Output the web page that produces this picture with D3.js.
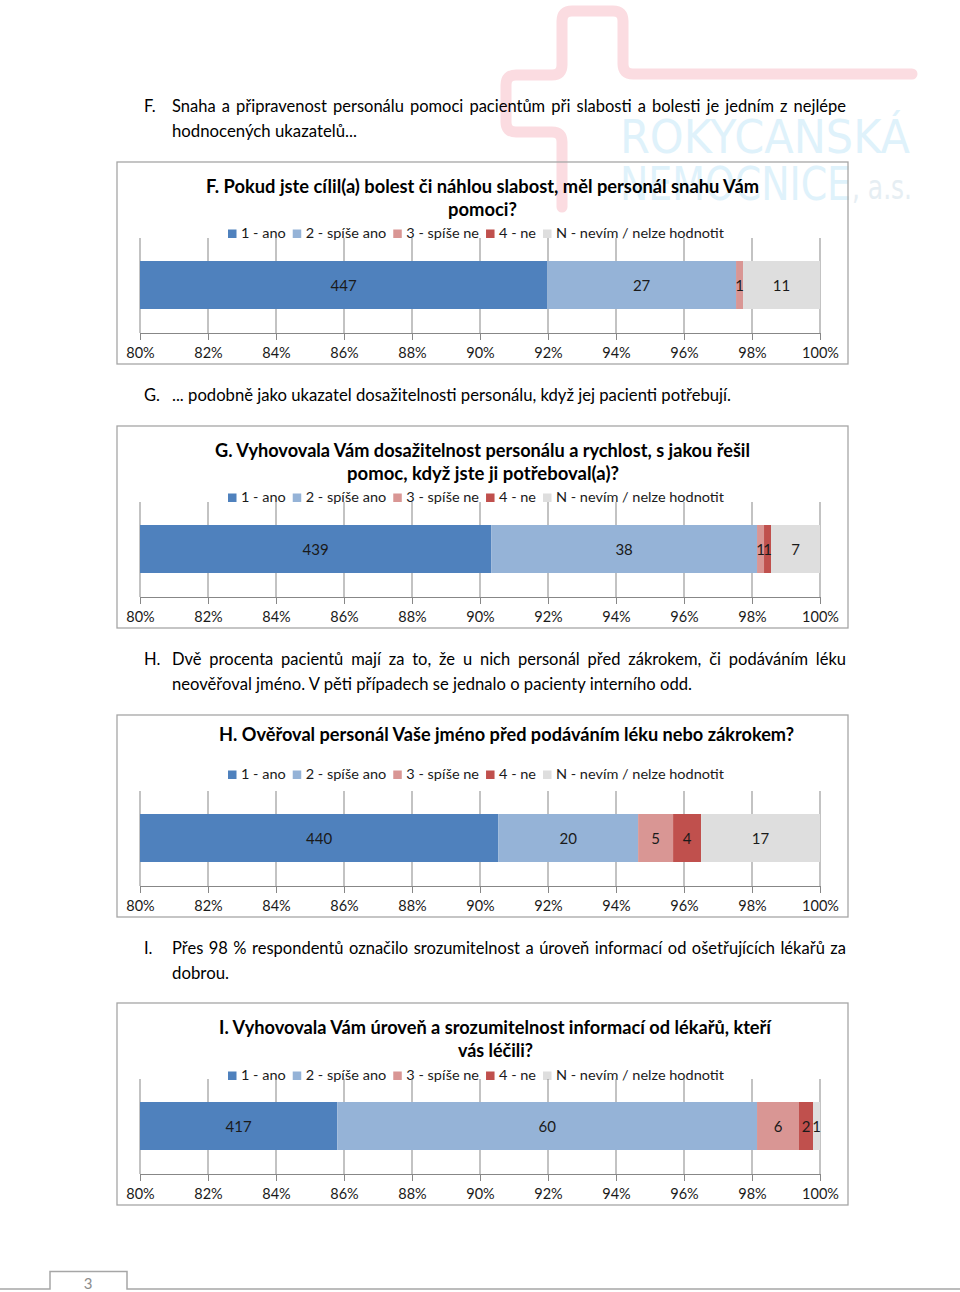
<!DOCTYPE html>
<html><head><meta charset="utf-8">
<script src="https://cdn.jsdelivr.net/npm/d3@7"></script>
<style>html,body{margin:0;padding:0;background:#fff;} svg{display:block;}</style>
</head><body>
<svg id="page" width="960" height="1292"></svg>
<script>
// ---------- DATA ----------
const categories = ["1 - ano", "2 - spíše ano", "3 - spíše ne", "4 - ne", "N - nevím / nelze hodnotit"];
const valuesF = [447, 27, 1, 0, 11];
const valuesG = [439, 38, 1, 1, 7];
const valuesH = [440, 20, 5, 4, 17];
const valuesI = [417, 60, 6, 2, 1];
const tickValues = [0.80, 0.82, 0.84, 0.86, 0.88, 0.90, 0.92, 0.94, 0.96, 0.98, 1.00];
const titleF = ["F. Pokud jste cílil(a) bolest či náhlou slabost, měl personál snahu Vám", "pomoci?"];
const titleG = ["G. Vyhovovala Vám dosažitelnost personálu a rychlost, s jakou řešil", "pomoc, když jste ji potřeboval(a)?"];
const titleH = ["H. Ověřoval personál Vaše jméno před podáváním léku nebo zákrokem?"];
const titleI = ["I. Vyhovovala Vám úroveň a srozumitelnost informací od lékařů, kteří", "vás léčili?"];
const paraF = ["Snaha a připravenost personálu pomoci pacientům při slabosti a bolesti je jedním z nejlépe", "hodnocených ukazatelů..."];
const paraG = ["... podobně jako ukazatel dosažitelnosti personálu, když jej pacienti potřebují."];
const paraH = ["Dvě procenta pacientů mají za to, že u nich personál před zákrokem, či podáváním léku", "neověřoval jméno. V pěti případech se jednalo o pacienty interního odd."];
const paraI = ["Přes 98 % respondentů označilo srozumitelnost a úroveň informací od ošetřujících lékařů za", "dobrou."];

// ---------- STYLE ----------
const colors = ["#4F81BD", "#95B3D7", "#D99694", "#C0504D", "#DEDEDE"];
const FONT = "Lato, 'Open Sans', sans-serif";
const svg = d3.select("#page");
svg.append("rect").attr("width", 960).attr("height", 1292).attr("fill", "#fff");

function fit(t, target, justify) {
  const w = t.node().getComputedTextLength();
  if (justify && w < target) {
    const spaces = (t.text().match(/ /g) || []).length;
    if (spaces) { t.attr("word-spacing", (target - w) / spaces); return; }
  }
  t.attr("textLength", target).attr("lengthAdjust", "spacingAndGlyphs");
}

// ---------- WATERMARK ----------
const wm = svg.append("g");
wm.append("path")
  .attr("d", "M912,74 L633,74 Q623,74 623,64 L623,21 Q623,11 613,11 L572,11 Q562,11 562,21 L562,65 Q562,75 552,75 L516,75 Q506,75 506,85 L506,122 Q506,132 516,132 L552,132 Q562,132 562,142 L562,207")
  .attr("fill", "none").attr("stroke", "#FBDCE1").attr("stroke-width", 11)
  .attr("stroke-linecap", "round").attr("stroke-linejoin", "round");
const w1 = wm.append("text").attr("x", 620).attr("y", 153).attr("font-family", "'DejaVu Sans', sans-serif")
  .attr("font-size", 47).attr("fill", "#DFF2FB").text("ROKYCANSKÁ");
fit(w1, 290);
const w2 = wm.append("text").attr("x", 620).attr("y", 200).attr("font-family", "'DejaVu Sans', sans-serif")
  .attr("font-size", 47).attr("fill", "#DFF2FB").text("NEMOCNICE");
fit(w2, 231);
const w3 = wm.append("text").attr("x", 852).attr("y", 199).attr("font-family", "'DejaVu Sans', sans-serif")
  .attr("font-size", 33).attr("fill", "#E6EEF3").text(", a.s.");
fit(w3, 60);

// ---------- PARAGRAPHS ----------
function paragraph(letter, lines, y0, widths, justified) {
  svg.append("text").attr("x", 144).attr("y", y0).attr("font-family", FONT).attr("font-size", 16.5)
    .attr("fill", "#000").text(letter);
  lines.forEach((ln, i) => {
    const t = svg.append("text").attr("x", 172).attr("y", y0 + i * 25).attr("font-family", FONT)
      .attr("font-size", 16.5).attr("fill", "#000").text(ln);
    fit(t, widths[i], justified[i]);
  });
}
paragraph("F.", paraF, 112, [674, 185], [true, false]);
paragraph("G.", paraG, 401, [559], [false]);
paragraph("H.", paraH, 665, [674, 520], [true, false]);
paragraph("I.", paraI, 954, [674, 57], [true, false]);

// ---------- CHARTS ----------
const x = d3.scaleLinear().domain([0.8, 1.0]).range([140, 820]).clamp(true);

function chart(top, values, titleLines, titleX, titleW, legendOff) {
  const g = svg.append("g");
  g.append("rect").attr("x", 117).attr("y", top).attr("width", 731).attr("height", 202)
    .attr("fill", "none").attr("stroke", "#A6A6A6").attr("stroke-width", 1.3);
  // title
  titleLines.forEach((ln, i) => {
    const t = g.append("text").attr("x", titleX[i]).attr("y", top + (titleLines.length === 1 ? 26 : 31) + i * 23)
      .attr("font-family", FONT).attr("font-weight", "bold").attr("font-size", 18).attr("fill", "#000").text(ln);
    fit(t, titleW[i]);
  });
  // legend
  const ly = top + legendOff;
  const lg = g.append("g");
  const texts = categories.map(c => lg.append("text").attr("y", ly).attr("font-family", FONT)
    .attr("font-size", 13.5).attr("fill", "#1a1a1a").text(c));
  const ws = texts.map(t => t.node().getComputedTextLength());
  const k = (496 - 93) / d3.sum(ws);
  let lx = 228;
  texts.forEach((t, i) => {
    lg.append("rect").attr("x", lx).attr("y", ly - 8.5).attr("width", 8.5).attr("height", 8.5).attr("fill", colors[i]);
    t.attr("x", lx + 13).attr("textLength", ws[i] * k).attr("lengthAdjust", "spacingAndGlyphs");
    lx += 13 + ws[i] * k + 7;
  });
  // grid
  const gridTop = top + 76, axisY = top + 171;
  g.selectAll(".grid").data(tickValues).enter().append("line")
    .attr("x1", d => x(d)).attr("x2", d => x(d)).attr("y1", gridTop).attr("y2", axisY)
    .attr("stroke", "#878787").attr("stroke-width", 1);
  // bars
  const total = d3.sum(values);
  const cum = d3.cumsum(values);
  const segs = values.map((v, i) => ({ v, i, s: (cum[i] - v) / total, e: cum[i] / total }));
  const barY = top + 99, barH = 48;
  g.selectAll(".seg").data(segs).enter().append("rect")
    .attr("x", d => x(d.s)).attr("width", d => x(d.e) - x(d.s))
    .attr("y", barY).attr("height", barH).attr("fill", d => colors[d.i]);
  g.selectAll(".lab").data(segs.filter(d => d.v > 0)).enter().append("text")
    .attr("x", d => (x(d.s) + x(d.e)) / 2).attr("y", barY + barH / 2 + 5.5)
    .attr("text-anchor", "middle").attr("font-family", FONT).attr("font-size", 15).attr("fill", "#1a1a1a")
    .text(d => d.v);
  // axis
  const ax = g.append("g").attr("transform", `translate(0,${axisY})`)
    .call(d3.axisBottom(x).tickValues(tickValues).tickFormat(d3.format(".0%")).tickSizeInner(7).tickSizeOuter(0));
  ax.select(".domain").attr("stroke", "#878787");
  ax.selectAll(".tick line").attr("stroke", "#878787");
  ax.selectAll(".tick text").attr("y", 25).attr("dy", 0).attr("font-family", FONT).attr("font-size", 14.5).attr("fill", "#1a1a1a");
}
chart(162, valuesF, titleF, [206, 448], [553, 69], 76);
chart(426, valuesG, titleG, [215, 347], [535, 272], 76);
chart(715, valuesH, titleH, [219], [575], 64);
chart(1003, valuesI, titleI, [219, 458], [552, 75], 77);

// ---------- FOOTER ----------
svg.append("path").attr("d", "M0,1289 H50 V1271.5 H127 V1289 H960").attr("fill", "none")
  .attr("stroke", "#A6A6A6").attr("stroke-width", 1.5);
svg.append("text").attr("x", 88).attr("y", 1289).attr("text-anchor", "middle").attr("font-family", FONT)
  .attr("font-size", 15).attr("fill", "#8C8C8C").text("3");
</script>
</body></html>
